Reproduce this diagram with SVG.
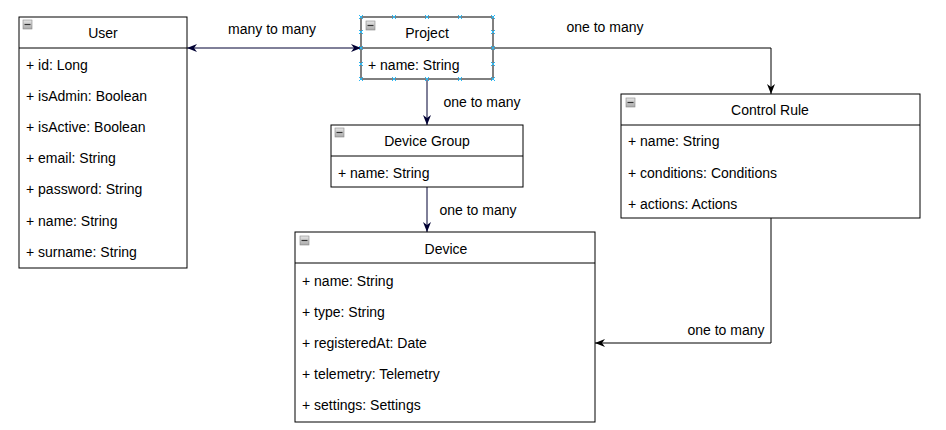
<svg xmlns="http://www.w3.org/2000/svg" width="946" height="430" viewBox="0 0 946 430">
<style>
.box{fill:#fff;stroke:#000;stroke-width:1}
.sep{stroke:#000;stroke-width:1}
text{font-family:"Liberation Sans",Arial,sans-serif;font-size:14px;fill:#000}
.t{text-anchor:middle}
.c{fill:none;stroke-width:1}
.nv{stroke:#000033}
.bk{stroke:#000}
.h{stroke:#29b6f2;stroke-width:1}
</style>
<defs>
<linearGradient id="g" x1="0" y1="0" x2="0" y2="1"><stop offset="0" stop-color="#e6e6e6"/><stop offset="1" stop-color="#a9a9a9"/></linearGradient>
<g id="mi"><rect x="0" y="0" width="9" height="9" fill="url(#g)" stroke="#888" stroke-width="0.6"/><line x1="1.5" y1="4.5" x2="7.5" y2="4.5" stroke="#333" stroke-width="1.2"/></g>
<marker id="an" viewBox="0 0 10 8" refX="10" refY="4" markerWidth="10" markerHeight="8" markerUnits="userSpaceOnUse" orient="auto-start-reverse"><path d="M0,0 L10,4 L0,8 L3,4 Z" fill="#000033"/></marker>
<marker id="ab" viewBox="0 0 10 8" refX="10" refY="4" markerWidth="10" markerHeight="8" markerUnits="userSpaceOnUse" orient="auto-start-reverse"><path d="M0,0 L10,4 L0,8 L3,4 Z" fill="#000"/></marker>
<g id="hx"><path d="M-2,-2 L2,2 M-2,2 L2,-2" class="h"/></g>
</defs>

<g id="connectors">
<path class="c nv" d="M187,48 L361,48" marker-start="url(#an)" marker-end="url(#an)"/>
<text x="272" y="34" class="t">many to many</text>
<path class="c bk" d="M493,48 L771,48 L771,94" marker-end="url(#ab)"/>
<text x="605" y="32" class="t">one to many</text>
<path class="c nv" d="M427,79 L427,125" marker-end="url(#an)"/>
<text x="482" y="107" class="t">one to many</text>
<path class="c nv" d="M427,187 L427,232" marker-end="url(#an)"/>
<text x="478" y="215" class="t">one to many</text>
<path class="c bk" d="M771,218 L771,343 L595,343" marker-end="url(#ab)"/>
<text x="726" y="335" class="t">one to many</text>
</g>

<g id="user">
<rect class="box" x="19" y="17" width="168" height="251"/>
<line class="sep" x1="19" y1="48" x2="187" y2="48"/>
<use href="#mi" x="23" y="20"/>
<text x="103" y="38" class="t">User</text>
<text x="26" y="70">+ id: Long</text>
<text x="26" y="101">+ isAdmin: Boolean</text>
<text x="26" y="132">+ isActive: Boolean</text>
<text x="26" y="163">+ email: String</text>
<text x="26" y="194">+ password: String</text>
<text x="26" y="226">+ name: String</text>
<text x="26" y="257">+ surname: String</text>
</g>

<g id="project">
<rect class="box" x="361" y="17" width="132" height="62"/>
<line class="sep" x1="361" y1="48" x2="493" y2="48"/>
<use href="#mi" x="366" y="21"/>
<text x="427" y="38" class="t">Project</text>
<text x="368" y="70">+ name: String</text>
<use href="#hx" x="361" y="17"/><use href="#hx" x="394" y="17"/><use href="#hx" x="427" y="17"/><use href="#hx" x="460" y="17"/><use href="#hx" x="493" y="17"/>
<use href="#hx" x="361" y="79"/><use href="#hx" x="394" y="79"/><use href="#hx" x="427" y="79"/><use href="#hx" x="460" y="79"/><use href="#hx" x="493" y="79"/>
<use href="#hx" x="361" y="32"/><use href="#hx" x="361" y="48"/><use href="#hx" x="361" y="64"/>
<use href="#hx" x="493" y="32"/><use href="#hx" x="493" y="48"/><use href="#hx" x="493" y="64"/>
</g>

<g id="device-group">
<rect class="box" x="331" y="125" width="192" height="62"/>
<line class="sep" x1="331" y1="156" x2="523" y2="156"/>
<use href="#mi" x="335" y="128"/>
<text x="427" y="146" class="t">Device Group</text>
<text x="338" y="178">+ name: String</text>
</g>

<g id="control-rule">
<rect class="box" x="621" y="94" width="299" height="124"/>
<line class="sep" x1="621" y1="125" x2="920" y2="125"/>
<use href="#mi" x="626" y="98"/>
<text x="770" y="115" class="t">Control Rule</text>
<text x="628" y="146">+ name: String</text>
<text x="628" y="178">+ conditions: Conditions</text>
<text x="628" y="209">+ actions: Actions</text>
</g>

<g id="device">
<rect class="box" x="295" y="232" width="300" height="190"/>
<line class="sep" x1="295" y1="263" x2="595" y2="263"/>
<use href="#mi" x="300" y="236"/>
<text x="446" y="254" class="t">Device</text>
<text x="302" y="286">+ name: String</text>
<text x="302" y="317">+ type: String</text>
<text x="302" y="348">+ registeredAt: Date</text>
<text x="302" y="379">+ telemetry: Telemetry</text>
<text x="302" y="410">+ settings: Settings</text>
</g>
</svg>
